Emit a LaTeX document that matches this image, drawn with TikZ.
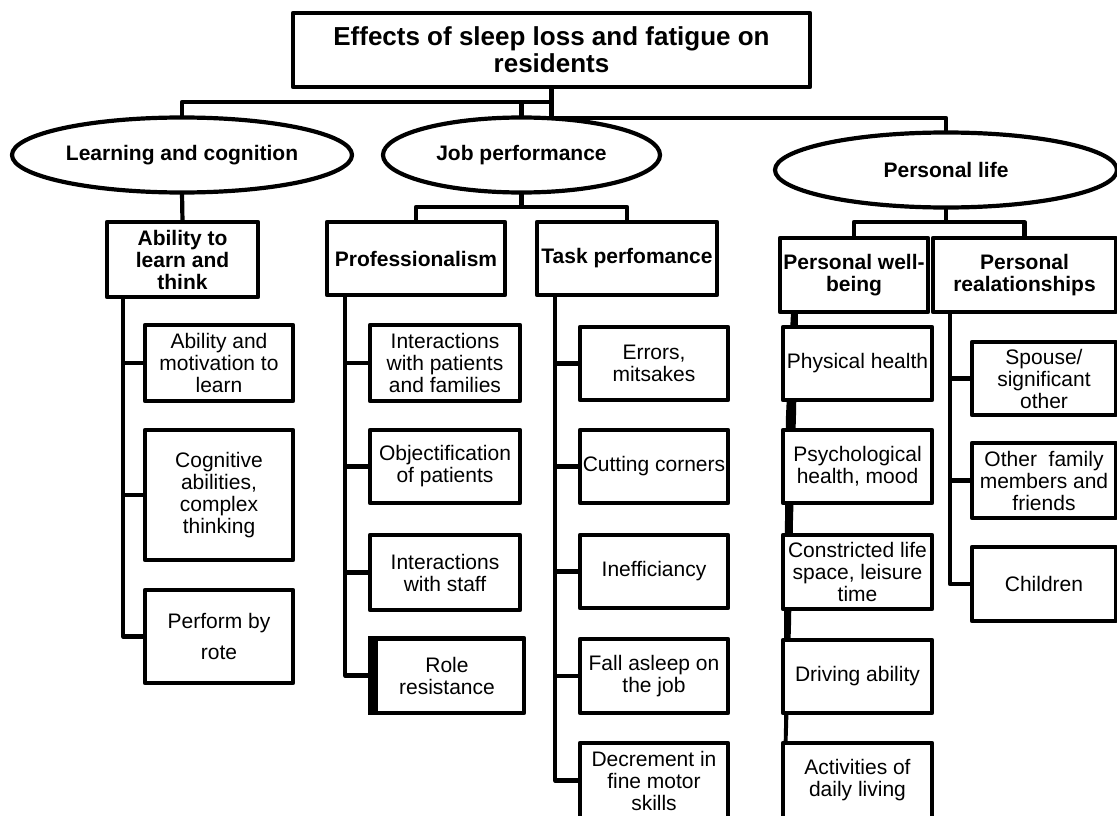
\documentclass[tikz,border=0pt]{standalone}
\usepackage{fontspec}
\setmainfont{Liberation Sans}
\usetikzlibrary{shapes.geometric}
\pgfdeclarelayer{background}
\pgfsetlayers{background,main}
\tikzset{
  bx/.style n args={2}{draw, fill=white, rectangle, minimum width=#1pt, minimum height=#2pt},
  el/.style n args={2}{draw, fill=white, ellipse, minimum width=#1pt, minimum height=#2pt, font=\fontsize{21}{22}\selectfont\bfseries},
  hd/.style={font=\fontsize{21}{22}\selectfont\bfseries},
  conn/.style={line width=4.2pt, line join=round},
}
\begin{document}
\begin{tikzpicture}[x=1pt,y=-1pt, line width=4.2pt, line join=round,
  every node/.style={inner sep=0pt, outer sep=0pt, align=center, font=\fontsize{21}{22}\selectfont}]
\useasboundingbox (0,0) rectangle (1117,816);

% root and level 1
\node[bx={517}{74}, font=\fontsize{26}{27}\selectfont\bfseries] (root) at (551.5,50) {Effects of sleep loss and fatigue on\\residents};
\node[el={340}{75}] (lc) at (182,155) {Learning and cognition};
\node[el={277}{75}] (jb) at (521.5,155) {Job performance};
\node[el={342}{75}] (pl) at (946,170) {Personal life};

% level 2
\node[bx={151}{75}, hd] (alt) at (182.5,259.5) {Ability to\\learn and\\think};
\node[bx={178}{73}, hd] (prof) at (416,258.5) {Professionalism};
\node[bx={180}{73}, hd] (task) at (627,258.5) {Task perfomance};
\node[bx={148}{74}, hd] (wb) at (854,275) {Personal well-\\being};
\node[bx={183}{74}, hd] (pr) at (1024.5,275) {Personal\\realationships};

% learning children
\node[bx={148}{76}] (a1) at (219,363) {Ability and\\motivation to\\learn};
\node[bx={148}{130}] (a2) at (219,495) {Cognitive\\abilities,\\complex\\thinking};
\node[bx={148}{93}] (a3) at (219,636.5) {Perform by\\[9pt]rote};

% professionalism children
\node[bx={150}{76}] (p1) at (445,363) {Interactions\\with patients\\and families};
\node[bx={150}{73}] (p2) at (445,466.5) {Objectification\\of patients};
\node[bx={150}{75}] (p3) at (445,572.5) {Interactions\\with staff};
\node[bx={154}{75}] (p4) at (447,675.5) {Role\\resistance};

% task children
\node[bx={148}{73}] (t1) at (654,363.5) {Errors,\\mitsakes};
\node[bx={148}{73}] (t2) at (654,466.5) {Cutting corners};
\node[bx={148}{73}] (t3) at (654,571.5) {Inefficiancy};
\node[bx={148}{74}] (t4) at (654,676) {Fall asleep on\\the job};
\node[bx={148}{75}] (t5) at (654,780.5) {Decrement in\\fine motor\\skills};

% well-being children
\node[bx={149}{73}] (w1) at (857.5,363.5) {Physical health};
\node[bx={149}{73}] (w2) at (857.5,466.5) {Psychological\\health, mood};
\node[bx={149}{74}] (w3) at (857.5,572) {Constricted life\\space, leisure\\time};
\node[bx={149}{73}] (w4) at (857.5,676.5) {Driving ability};
\node[bx={149}{75}] (w5) at (857.5,780.5) {Activities of\\daily living};

% relationship children
\node[bx={144}{73}] (r1) at (1044,378.5) {Spouse/\\significant\\other};
\node[bx={144}{75}] (r2) at (1044,480.5) {Other~ family\\members and\\friends};
\node[bx={144}{74}] (r3) at (1044,584) {Children};

% junction coordinates
\coordinate (j1) at (700,118);
\coordinate (j2) at (300,102);
\coordinate (j3) at (521.5,207);
\coordinate (j4) at (946,222);

\begin{pgfonlayer}{background}
\begin{scope}[conn]
\fill[white] (0,0) rectangle (1117,816);
% top-level connectors
\draw (root.south) |- (j1) -| (pl.north);
\draw (root.south) |- (j2) -| (lc.north);
\draw (jb.north) -- (jb.north |- j2);
\draw (lc.south) -- (alt.north);
\draw (jb.south) |- (j3) -| (prof.north);
\draw (j3) -| (task.north);
\draw (pl.south) |- (j4) -| (wb.north);
\draw (j4) -| (pr.north);

% trunks
\draw ([xshift=16pt]alt.south west) |- (a1.west)
      ([xshift=16pt]alt.south west) |- (a2.west)
      ([xshift=16pt]alt.south west) |- (a3.west);
\draw ([xshift=18pt]prof.south west) |- (p1.west)
      ([xshift=18pt]prof.south west) |- (p2.west)
      ([xshift=18pt]prof.south west) |- (p3.west)
      ([xshift=18pt]prof.south west) |- (p4.west);
\draw ([xshift=18pt]task.south west) |- (t1.west)
      ([xshift=18pt]task.south west) |- (t2.west)
      ([xshift=18pt]task.south west) |- (t3.west)
      ([xshift=18pt]task.south west) |- (t4.west)
      ([xshift=18pt]task.south west) |- (t5.west);
\draw ([xshift=17pt]pr.south west) |- (r1.west)
      ([xshift=17pt]pr.south west) |- (r2.west)
      ([xshift=17pt]pr.south west) |- (r3.west);

% tapered well-being trunk
\coordinate (wbb) at (wb.south west);
\fill ([shift={(11pt,0pt)}]wbb) -- ([shift={(18pt,0pt)}]wbb)
  -- ([shift={(16pt,-103pt)}]wbb) -- ([shift={(13pt,-208pt)}]wbb)
  -- ([shift={(11pt,-313pt)}]wbb) -- ([shift={(8pt,-416pt)}]wbb)
  -- ([shift={(5pt,-506pt)}]wbb) -- ([shift={(2pt,-506pt)}]wbb)
  -- ([shift={(4pt,-416pt)}]wbb) -- ([shift={(4pt,-313pt)}]wbb)
  -- ([shift={(5pt,-208pt)}]wbb) -- ([shift={(6pt,-103pt)}]wbb) -- cycle;
\end{scope}
\end{pgfonlayer}

% role resistance thick left/top border
\fill ([xshift=-2.1pt,yshift=2.1pt]p4.north west) rectangle ([xshift=8pt,yshift=-2.1pt]p4.south west);
\fill ([yshift=2.1pt]p4.north west) rectangle ([yshift=-3.4pt]p4.north east);
\end{tikzpicture}
\end{document}
